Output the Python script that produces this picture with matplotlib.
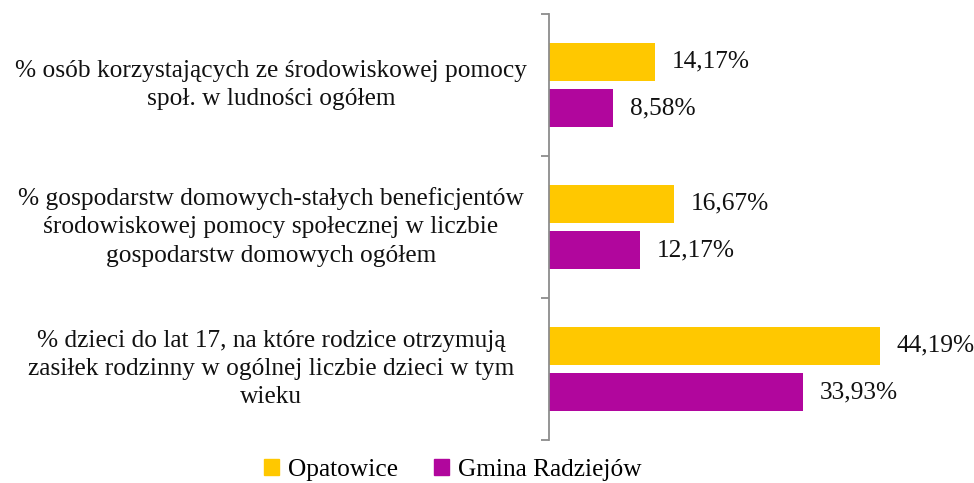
import matplotlib.pyplot as plt
import matplotlib.transforms as mtransforms
from matplotlib.patches import Patch
import numpy as np

categories = [
    "% osób korzystających ze środowiskowej pomocy\nspoł. w ludności ogółem",
    "% gospodarstw domowych-stałych beneficjentów\nśrodowiskowej pomocy społecznej w liczbie\ngospodarstw domowych ogółem",
    "% dzieci do lat 17, na które rodzice otrzymują\nzasiłek rodzinny w ogólnej liczbie dzieci w tym\nwieku",
]
series_names = ["Opatowice", "Gmina Radziejów"]
opatowice = [14.17, 16.67, 44.19]
radziejow = [8.58, 12.17, 33.93]

yellow = "#FFC800"
purple = "#B1069D"
axis_grey = "#8C8C8C"

plt.rcParams['font.family'] = ['Liberation Serif', 'DejaVu Serif']

fig = plt.figure(figsize=(9.74, 4.83), dpi=100)
ax = fig.add_axes([549/974, 1-440/483, (965-549)/974, (440-14)/483])

y = np.arange(len(categories))
h = 0.268
off = 0.165
ax.barh(y - off, opatowice, height=h, color=yellow)
ax.barh(y + off, radziejow, height=h, color=purple)

ax.set_xlim(0, (965-549)/7.48)
ax.set_ylim(2.5, -0.5)

fs = 18.3
for yi, v in zip(y, opatowice):
    ax.text(v + 2.3, yi - off, f"{v:.2f}".replace(".", ",") + "%", va="center", ha="left", fontsize=fs, color="#111111")
for yi, v in zip(y, radziejow):
    ax.text(v + 2.3, yi + off, f"{v:.2f}".replace(".", ",") + "%", va="center", ha="left", fontsize=fs, color="#111111")

# category labels, centred in the left margin
trans = mtransforms.blended_transform_factory(fig.transFigure, ax.transData)
for yi, lab in zip(y, categories):
    ax.text(271/974, yi, lab, transform=trans, ha="center", va="center",
            multialignment="center", fontsize=fs, color="#111111", linespacing=1.37)

ax.set_yticks([-0.5, 0.5, 1.5, 2.5])
ax.set_yticklabels([])
ax.tick_params(axis="y", length=6, color=axis_grey, width=1.3)
ax.set_xticks([])
for s in ["top", "right", "bottom"]:
    ax.spines[s].set_visible(False)
ax.spines["left"].set_color(axis_grey)
ax.spines["left"].set_linewidth(1.3)

handles = [Patch(color=yellow), Patch(color=purple)]
fig.legend(handles, series_names, loc="center", bbox_to_anchor=(453/974, 1-470/483),
           ncol=2, frameon=False, fontsize=fs, handlelength=0.6, handleheight=0.6,
           handletextpad=0.35, columnspacing=1.4)

fig.savefig("out.png", dpi=100)
